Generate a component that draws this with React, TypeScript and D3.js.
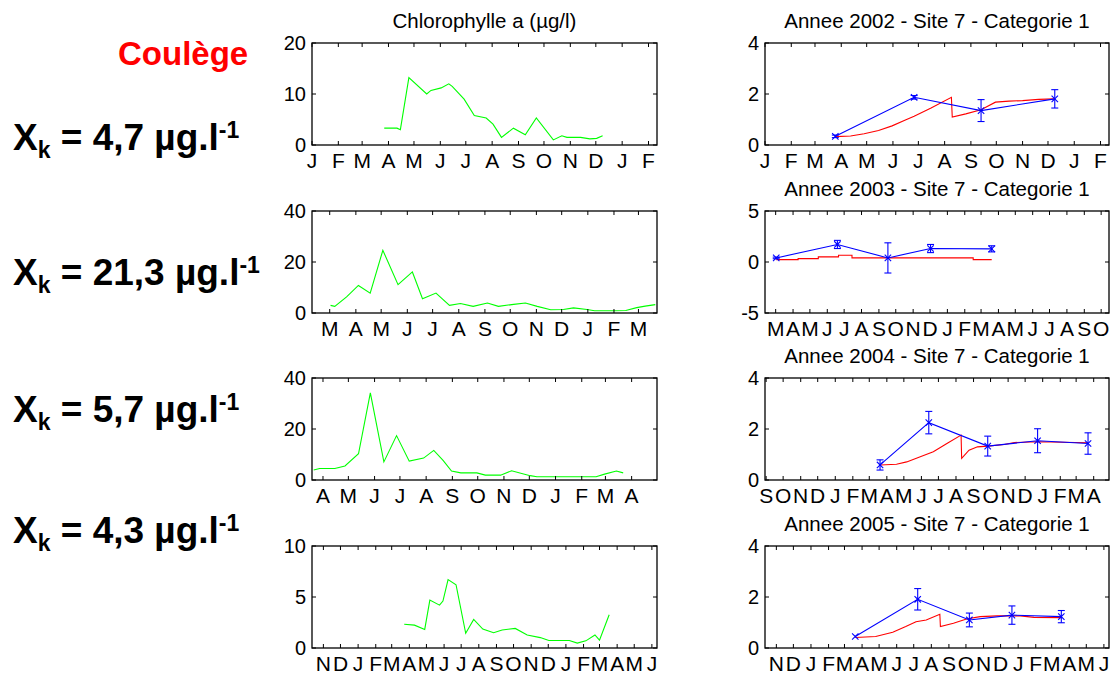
import React from "react";
import * as d3 from "d3";

type Pt = [string, number];
type Obs = [string, number, number];

const monthLetters = ["J", "F", "M", "A", "M", "J", "J", "A", "S", "O", "N", "D"];
const years = [2002, 2003, 2004, 2005];
const xkValues = ["4,7", "21,3", "5,7", "4,3"];
const siteName = "Coulège";

// Chlorophylle a (µg/l) – green series
const chla2002: Pt[] = [
  ["2002-03-27", 3.3], ["2002-04-11", 3.3], ["2002-04-15", 3.0], ["2002-04-25", 13.2],
  ["2002-05-16", 10.0], ["2002-05-21", 10.7], ["2002-06-02", 11.2], ["2002-06-11", 12.0],
  ["2002-06-15", 11.5], ["2002-06-29", 9.0], ["2002-07-11", 5.8], ["2002-07-25", 5.3],
  ["2002-08-02", 4.1], ["2002-08-12", 1.5], ["2002-08-26", 3.3], ["2002-09-09", 2.0],
  ["2002-09-22", 5.3], ["2002-10-12", 1.0], ["2002-10-22", 1.8], ["2002-10-28", 1.5],
  ["2002-11-13", 1.5], ["2002-11-24", 1.2], ["2002-12-02", 1.3], ["2002-12-09", 1.8],
];
const chla2003: Pt[] = [
  ["2003-03-02", 3.0], ["2003-03-07", 2.6], ["2003-03-21", 6.3], ["2003-04-04", 10.8],
  ["2003-04-18", 7.8], ["2003-05-03", 24.6], ["2003-05-21", 11.1], ["2003-06-07", 16.1],
  ["2003-06-19", 5.6], ["2003-07-05", 7.8], ["2003-07-21", 3.0], ["2003-08-03", 3.7],
  ["2003-08-18", 2.6], ["2003-09-04", 3.9], ["2003-09-17", 2.6], ["2003-10-05", 3.4],
  ["2003-10-19", 3.9], ["2003-11-02", 2.6], ["2003-11-18", 1.3], ["2003-12-03", 1.4],
  ["2003-12-15", 2.0], ["2003-12-31", 1.4], ["2004-01-09", 0.9], ["2004-02-02", 0.9],
  ["2004-02-15", 1.0], ["2004-02-28", 2.1], ["2004-03-09", 2.7], ["2004-03-21", 3.3],
];
const chla2004: Pt[] = [
  ["2004-03-21", 3.9], ["2004-03-28", 4.5], ["2004-04-15", 4.5], ["2004-04-27", 5.5],
  ["2004-05-13", 10.3], ["2004-05-27", 34.2], ["2004-06-12", 7.1], ["2004-06-27", 17.4],
  ["2004-07-12", 7.4], ["2004-07-29", 8.6], ["2004-08-10", 11.6], ["2004-08-21", 7.7],
  ["2004-08-31", 3.5], ["2004-09-11", 2.8], ["2004-09-30", 2.8], ["2004-10-10", 1.9],
  ["2004-10-28", 1.9], ["2004-11-10", 3.6], ["2004-12-02", 1.7], ["2004-12-10", 1.3],
  ["2005-02-18", 1.3], ["2005-02-28", 2.3], ["2005-03-14", 3.5], ["2005-03-22", 2.8],
];
const chla2005: Pt[] = [
  ["2005-03-23", 2.33], ["2005-04-10", 2.24], ["2005-04-28", 1.82], ["2005-05-07", 4.7],
  ["2005-05-24", 4.2], ["2005-05-30", 4.6], ["2005-06-08", 6.7], ["2005-06-22", 6.2],
  ["2005-07-09", 1.44], ["2005-07-23", 2.8], ["2005-08-08", 1.85], ["2005-08-27", 1.5],
  ["2005-09-11", 1.76], ["2005-10-04", 1.92], ["2005-10-25", 1.28], ["2005-11-17", 1.02],
  ["2005-12-02", 0.73], ["2006-01-07", 0.73], ["2006-01-21", 0.48], ["2006-02-05", 0.7],
  ["2006-02-21", 1.28], ["2006-03-01", 0.77], ["2006-03-18", 3.26],
];

// Model (red)
const model2002: Pt[] = [
  ["2002-03-25", 0.33], ["2002-04-12", 0.35], ["2002-04-28", 0.44], ["2002-05-15", 0.57],
  ["2002-05-31", 0.75], ["2002-06-15", 0.97], ["2002-06-26", 1.13], ["2002-07-16", 1.45],
  ["2002-08-09", 1.87], ["2002-08-10", 1.1], ["2002-08-26", 1.22], ["2002-09-13", 1.38],
  ["2002-09-30", 1.68], ["2002-10-16", 1.72], ["2002-11-01", 1.74], ["2002-11-20", 1.79],
  ["2002-12-09", 1.81],
];
const model2003: Pt[] = [
  ["2003-03-02", 0.23], ["2003-04-10", 0.33], ["2003-05-16", 0.5], ["2003-06-21", 0.66],
  ["2003-07-15", 0.4], ["2004-02-16", 0.23], ["2004-03-20", 0.23],
];
const model2004: Pt[] = [
  ["2004-03-20", 0.59], ["2004-04-18", 0.62], ["2004-05-06", 0.71], ["2004-05-30", 0.91],
  ["2004-06-22", 1.11], ["2004-07-16", 1.43], ["2004-08-10", 1.76], ["2004-08-11", 0.85],
  ["2004-08-24", 1.17], ["2004-09-08", 1.3], ["2004-09-26", 1.33], ["2004-10-25", 1.39],
  ["2004-11-12", 1.47], ["2004-12-23", 1.5], ["2005-03-22", 1.46],
];
const model2005: Pt[] = [
  ["2005-03-20", 0.41], ["2005-04-25", 0.45], ["2005-05-25", 0.62], ["2005-06-17", 0.84],
  ["2005-07-05", 1.03], ["2005-07-23", 1.1], ["2005-08-16", 1.32], ["2005-08-17", 0.84],
  ["2005-09-09", 0.97], ["2005-10-02", 1.14], ["2005-10-26", 1.23], ["2005-11-25", 1.26],
  ["2006-01-05", 1.26], ["2006-01-29", 1.2], ["2006-03-18", 1.19],
];

// Observations (blue): date, mean, error
const obs2002: Obs[] = [
  ["2002-03-25", 0.34, 0.05], ["2002-06-26", 1.87, 0.07], ["2002-09-13", 1.35, 0.43], ["2002-12-09", 1.81, 0.36],
];
const obs2003: Obs[] = [
  ["2003-03-02", 0.4, 0.08], ["2003-06-19", 1.72, 0.4], ["2003-09-17", 0.4, 1.48],
  ["2003-12-02", 1.32, 0.4], ["2004-03-20", 1.29, 0.3],
];
const obs2004: Obs[] = [
  ["2004-03-20", 0.59, 0.2], ["2004-06-14", 2.25, 0.44], ["2004-09-26", 1.33, 0.39],
  ["2004-12-23", 1.54, 0.47], ["2005-03-22", 1.43, 0.42],
];
const obs2005: Obs[] = [
  ["2005-03-20", 0.45, 0.0], ["2005-07-08", 1.91, 0.42], ["2005-10-07", 1.1, 0.27],
  ["2005-12-21", 1.29, 0.36], ["2006-03-18", 1.23, 0.24],
];

const chlaSeries = [chla2002, chla2003, chla2004, chla2005];
const modelSeries = [model2002, model2003, model2004, model2005];
const modelStep = [false, true, false, false];
const obsSeries = [obs2002, obs2003, obs2004, obs2005];

const leftLimits: [string, string][] = [
  ["2002-01-01", "2003-02-11"], ["2003-02-08", "2004-03-23"],
  ["2004-03-19", "2005-05-01"], ["2004-10-12", "2006-06-10"],
];
const rightLimits: [string, string][] = [
  ["2002-01-01", "2003-02-11"], ["2003-02-10", "2004-10-15"],
  ["2003-08-30", "2005-04-28"], ["2004-10-12", "2006-06-10"],
];
const leftYLim: [number, number][] = [[0, 20], [0, 40], [0, 40], [0, 10]];
const leftYTicks = [[0, 10, 20], [0, 20, 40], [0, 20, 40], [0, 5, 10]];
const rightYLim: [number, number][] = [[0, 4], [-5, 5], [0, 4], [0, 4]];
const rightYTicks = [[0, 2, 4], [-5, 0, 5], [0, 2, 4], [0, 2, 4]];

const parse = d3.timeParse("%Y-%m-%d");
const P = (s: string) => parse(s) as Date;

const FONT = "'Liberation Sans', Arial, Helvetica, sans-serif";
const LEFT_X = 312, LEFT_W = 345, RIGHT_X = 765, RIGHT_W = 344;
const ROW_TOPS = [43, 211, 378, 546];
const PANEL_H = 102;
const TICK = 4;

function Frame({ x, y, w, h, xs, ys, yTicks, title }: any) {
  const [d0, d1] = xs.domain();
  const months = d3.timeMonth.range(d0, d1);
  return (
    <g>
      {title && (
        <text x={x + w / 2} y={y - 15} textAnchor="middle" fontSize={20.5} fontFamily={FONT}>
          {title}
        </text>
      )}
      {months.map((m: Date, i: number) => {
        const tx = xs(m);
        return (
          <g key={i}>
            <line x1={tx} x2={tx} y1={y + h} y2={y + h - TICK} stroke="#000" strokeWidth={1} />
            <line x1={tx} x2={tx} y1={y} y2={y + TICK} stroke="#000" strokeWidth={1} />
            <text x={tx} y={y + h + 23} textAnchor="middle" fontSize={21} fontFamily={FONT}>
              {monthLetters[m.getMonth()]}
            </text>
          </g>
        );
      })}
      {yTicks.map((v: number, i: number) => {
        const ty = ys(v);
        return (
          <g key={"y" + i}>
            <line x1={x} x2={x + TICK} y1={ty} y2={ty} stroke="#000" strokeWidth={1} />
            <line x1={x + w} x2={x + w - TICK} y1={ty} y2={ty} stroke="#000" strokeWidth={1} />
            <text x={x - 6} y={ty} dy="0.36em" textAnchor="end" fontSize={20} fontFamily={FONT}>
              {v}
            </text>
          </g>
        );
      })}
      <rect x={x} y={y} width={w} height={h} fill="none" stroke="#000" strokeWidth={1.3} />
    </g>
  );
}

function LeftPanel({ row }: { row: number }) {
  const y = ROW_TOPS[row];
  const xs = d3.scaleTime().domain(leftLimits[row].map(P)).range([LEFT_X, LEFT_X + LEFT_W]);
  const ys = d3.scaleLinear().domain(leftYLim[row]).range([y + PANEL_H, y]);
  const line = d3.line<Pt>().x((d) => xs(P(d[0]))).y((d) => ys(d[1]));
  return (
    <g>
      <path d={line(chlaSeries[row]) || ""} fill="none" stroke="#00ff00" strokeWidth={1.1} />
      <Frame x={LEFT_X} y={y} w={LEFT_W} h={PANEL_H} xs={xs} ys={ys} yTicks={leftYTicks[row]}
        title={row === 0 ? "Chlorophylle a (µg/l)" : null} />
    </g>
  );
}

function RightPanel({ row }: { row: number }) {
  const y = ROW_TOPS[row];
  const xs = d3.scaleTime().domain(rightLimits[row].map(P)).range([RIGHT_X, RIGHT_X + RIGHT_W]);
  const ys = d3.scaleLinear().domain(rightYLim[row]).range([y + PANEL_H, y]);
  const redLine = d3.line<Pt>().x((d) => xs(P(d[0]))).y((d) => ys(d[1]))
    .curve(modelStep[row] ? d3.curveStepAfter : d3.curveLinear);
  const blueLine = d3.line<Obs>().x((d) => xs(P(d[0]))).y((d) => ys(d[1]));
  const obs = obsSeries[row];
  const cap = 3.5, mk = 3.2;
  return (
    <g>
      <path d={redLine(modelSeries[row]) || ""} fill="none" stroke="#ff0000" strokeWidth={1.1} />
      <path d={blueLine(obs) || ""} fill="none" stroke="#0000ff" strokeWidth={1.1} />
      {obs.map((o, i) => {
        const cx = xs(P(o[0]));
        const cy = ys(o[1]);
        const y1 = ys(o[1] + o[2]);
        const y2 = ys(o[1] - o[2]);
        return (
          <g key={i} stroke="#0000ff" strokeWidth={1.1} fill="none">
            {o[2] > 0 && (
              <>
                <line x1={cx} x2={cx} y1={y1} y2={y2} />
                <line x1={cx - cap} x2={cx + cap} y1={y1} y2={y1} />
                <line x1={cx - cap} x2={cx + cap} y1={y2} y2={y2} />
              </>
            )}
            <line x1={cx - mk} x2={cx + mk} y1={cy - mk} y2={cy + mk} />
            <line x1={cx - mk} x2={cx + mk} y1={cy + mk} y2={cy - mk} />
          </g>
        );
      })}
      <Frame x={RIGHT_X} y={y} w={RIGHT_W} h={PANEL_H} xs={xs} ys={ys} yTicks={rightYTicks[row]}
        title={`Annee ${years[row]} - Site 7 - Categorie 1`} />
    </g>
  );
}

const LABEL_BASE = [150, 285, 421.5, 543];

export default function App() {
  return (
    <svg width={1113} height={678} style={{ position: "absolute", left: 0, top: 0, background: "#fff" }}>
      <rect x={0} y={0} width={1113} height={678} fill="#fff" />
      <text x={118} y={65} fontSize={33} fontWeight="bold" fill="#ff0000" fontFamily={FONT}>
        {siteName}
      </text>
      {xkValues.map((v, i) => (
        <text key={i} x={13} y={LABEL_BASE[i]} fontSize={37} fontWeight="bold" fontFamily={FONT}>
          <tspan>X</tspan>
          <tspan fontSize={23} dy={8}>k</tspan>
          <tspan dy={-8}>{` = ${v} µg.l`}</tspan>
          <tspan fontSize={23} dy={-12}>-1</tspan>
        </text>
      ))}
      {[0, 1, 2, 3].map((r) => (
        <g key={r}>
          <LeftPanel row={r} />
          <RightPanel row={r} />
        </g>
      ))}
    </svg>
  );
}
